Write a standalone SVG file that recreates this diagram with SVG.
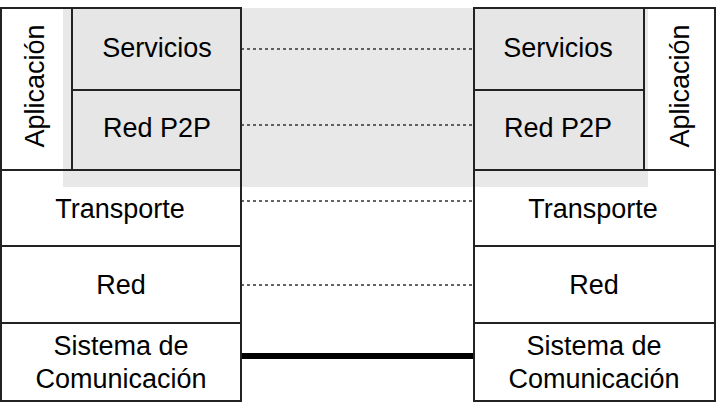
<svg xmlns="http://www.w3.org/2000/svg" width="716" height="416" viewBox="0 0 716 416">
<style>
.box{fill:none;stroke:#222;stroke-width:2}
.g{fill:#e6e6e6;stroke:#222;stroke-width:2}
text{font-family:"Liberation Sans",Arial,sans-serif;font-size:27px;fill:#000;text-anchor:middle}
.dash{stroke:#333;stroke-width:1.3;stroke-dasharray:3,3;fill:none}
</style>
<rect x="0" y="0" width="716" height="416" fill="#fff"/>
<rect x="63" y="8" width="585" height="179" fill="#e8e8e8"/>
<g id="connectors">
<line class="dash" x1="241" y1="49" x2="474" y2="49"/>
<line class="dash" x1="241" y1="125" x2="474" y2="125"/>
<line class="dash" x1="241" y1="201" x2="474" y2="201"/>
<line class="dash" x1="241" y1="285" x2="474" y2="285"/>
<line x1="241" y1="356" x2="474" y2="356" stroke="#000" stroke-width="6"/>
</g>
<g id="left-aplicacion"><rect class="box" x="1" y="8" width="71" height="162"/><text transform="translate(44,86) rotate(-90)">Aplicación</text></g>
<g id="left-servicios"><rect class="g" x="72" y="8" width="169" height="82"/><text x="157" y="57">Servicios</text></g>
<g id="left-redp2p"><rect class="g" x="72" y="90" width="169" height="80"/><text x="157" y="137">Red P2P</text></g>
<g id="left-transporte"><rect class="box" x="1" y="170" width="240" height="76"/><text x="120" y="218">Transporte</text></g>
<g id="left-red"><rect class="box" x="1" y="246" width="240" height="77"/><text x="121" y="294">Red</text></g>
<g id="left-sistema"><rect class="box" x="1" y="323" width="240" height="78"/><text x="121" y="355">Sistema de</text><text x="121" y="388">Comunicación</text></g>
<g id="right-servicios"><rect class="g" x="474" y="8" width="170" height="82"/><text x="558" y="57">Servicios</text></g>
<g id="right-redp2p"><rect class="g" x="474" y="90" width="170" height="80"/><text x="558" y="137">Red P2P</text></g>
<g id="right-aplicacion"><rect class="box" x="644" y="8" width="71" height="162"/><text transform="translate(689,86) rotate(-90)">Aplicación</text></g>
<g id="right-transporte"><rect class="box" x="474" y="170" width="241" height="76"/><text x="593" y="218">Transporte</text></g>
<g id="right-red"><rect class="box" x="474" y="246" width="241" height="77"/><text x="594" y="294">Red</text></g>
<g id="right-sistema"><rect class="box" x="474" y="323" width="241" height="78"/><text x="594" y="355">Sistema de</text><text x="594" y="388">Comunicación</text></g>
</svg>
